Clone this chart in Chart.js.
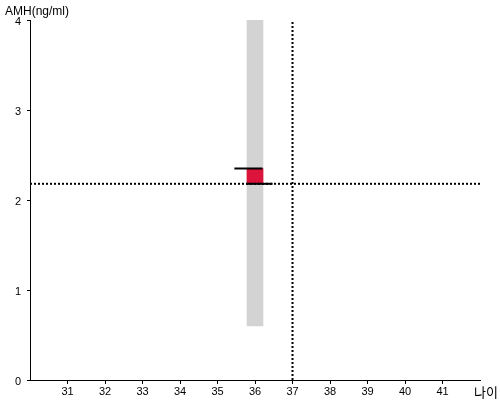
<!DOCTYPE html>
<html>
  <head>
    <meta charset="utf-8">
    <title>AMH</title>
    <style>
      body { margin: 0; background: #fff; }
      #wrap { width: 500px; height: 400px; }
    </style>
  </head>
  <body>
    <div id="wrap"><canvas id="MyCanvas" width="500" height="400"></canvas></div>
    <script src="https://cdn.jsdelivr.net/npm/chart.js@4.4.1/dist/chart.umd.min.js"></script>
    <script>
      // axis ranges and ticks
      const xTicks = [31, 32, 33, 34, 35, 36, 37, 38, 39, 40, 41];
      const yTicks = [0, 1, 2, 3, 4];
      const xMin = 30, xMax = 42;
      const yMin = 0, yMax = 4;

      // normal range bar (gray) at age 36
      const rangeAge = [36];
      const rangeLow = [0.6];
      const rangeHigh = [4];

      // red bar between the two black marks
      const redLow = [2.18];
      const redHigh = [2.35];

      // black marks: [xStart, xEnd, y]
      const topMark = [35.45, 36.2, 2.35];
      const bottomMark = [35.77, 36.47, 2.18];

      // patient: age and AMH value (dotted cross-hair)
      const patientAge = 37;
      const patientAmh = 2.18;

      const yTitle = 'AMH(ng/ml)';
      const xTitle = '나이';

      const titles = {
        id: 'titles',
        afterDraw(chart) {
          const c = chart.ctx;
          c.save();
          c.fillStyle = '#000';
          c.font = '12px "Liberation Sans", Arial, sans-serif';
          c.textBaseline = 'alphabetic';
          c.textAlign = 'left';
          c.fillText(yTitle, 5, 15);
          c.font = '13px "Noto Sans CJK KR", sans-serif';
          c.fillText(xTitle, 474, 397);
          c.restore();
        }
      };

      var ctx = document.getElementById('MyCanvas').getContext('2d');
      var myChart = new Chart(ctx, {
        type: 'bar',
        data: {
          datasets: [
            {
              type: 'line',
              data: [{x: topMark[0], y: topMark[2]}, {x: topMark[1], y: topMark[2]}],
              borderColor: '#000',
              borderWidth: 2,
              pointRadius: 0,
              order: 0
            },
            {
              type: 'line',
              data: [{x: bottomMark[0], y: bottomMark[2]}, {x: bottomMark[1], y: bottomMark[2]}],
              borderColor: '#000',
              borderWidth: 2,
              pointRadius: 0,
              order: 0
            },
            {
              type: 'line',
              data: [{x: xMin, y: patientAmh}, {x: xMax, y: patientAmh}],
              borderColor: '#000',
              borderWidth: 2,
              borderDash: [2, 2],
              borderCapStyle: 'butt',
              pointRadius: 0,
              order: 1
            },
            {
              type: 'line',
              data: [{x: patientAge, y: yMin}, {x: patientAge, y: yMax}],
              borderColor: '#000',
              borderWidth: 2,
              borderDash: [2, 2],
              borderCapStyle: 'butt',
              pointRadius: 0,
              order: 1
            },
            {
              data: rangeAge.map((a, i) => ({x: a, y: [redLow[i], redHigh[i]]})),
              backgroundColor: '#dc143c',
              barThickness: 16,
              grouped: false,
              order: 2
            },
            {
              data: rangeAge.map((a, i) => ({x: a, y: [rangeLow[i], rangeHigh[i]]})),
              backgroundColor: '#d3d3d3',
              barThickness: 16,
              grouped: false,
              order: 3
            }
          ]
        },
        options: {
          responsive: false,
          animation: false,
          layout: { padding: { left: 0, right: 20, top: 20, bottom: 0 } },
          plugins: { legend: { display: false }, tooltip: { enabled: false } },
          scales: {
            x: {
              type: 'linear',
              min: xMin,
              max: xMax,
              offset: false,
              afterBuildTicks: s => { s.ticks = xTicks.map(v => ({value: v})); },
              afterFit: s => { s.height = 20; },
              grid: { display: true, offset: false, drawOnChartArea: false, drawTicks: true, tickLength: 4, color: '#000', tickColor: '#000' },
              border: { display: true, color: '#000', width: 1 },
              ticks: { color: '#000', padding: 1, maxRotation: 0, font: { family: '"Liberation Sans", Arial, sans-serif', size: 11 } }
            },
            y: {
              min: yMin,
              max: yMax,
              afterBuildTicks: s => { s.ticks = yTicks.map(v => ({value: v})); },
              afterFit: s => { s.width = 30; },
              grid: { display: true, offset: false, drawOnChartArea: false, drawTicks: true, tickLength: 3, color: '#000', tickColor: '#000' },
              border: { display: true, color: '#000', width: 1 },
              ticks: { color: '#000', padding: 6, labelOffset: 2, font: { family: '"Liberation Sans", Arial, sans-serif', size: 11 } }
            }
          }
        },
        plugins: [titles]
      });
    </script>
  </body>
</html>
